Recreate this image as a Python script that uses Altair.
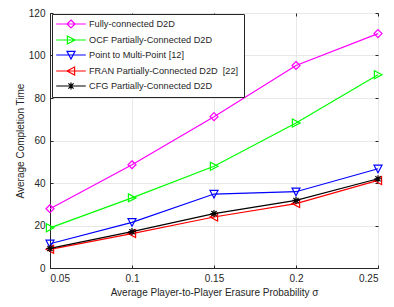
import altair as alt
import pandas as pd

sigma = [0.05, 0.10, 0.15, 0.20, 0.25]
series_names = [
    "Fully-connected D2D",
    "OCF Partially-Connected D2D",
    "Point to Multi-Point [12]",
    "FRAN Partially-Connected D2D\u00a0\u00a0[22]",
    "CFG Partially-Connected D2D",
]
fully = [27.9, 48.6, 71.2, 95.3, 110.3]
ocf = [18.9, 33.0, 47.9, 68.2, 90.9]
p2mp = [11.4, 21.5, 34.8, 35.9, 46.7]
fran = [8.8, 16.2, 24.0, 30.3, 41.2]
cfg = [9.2, 17.1, 25.6, 31.8, 42.0]
colors = ["#ff00ff", "#00ff00", "#0000ff", "#ff0000", "#000000"]
x_ticks = [0.05, 0.1, 0.15, 0.2, 0.25]
y_ticks = [0, 20, 40, 60, 80, 100, 120]

markers = [
    "M0,-1L1,0L0,1L-1,0Z",
    "M-0.9,-1L1,0L-0.9,1Z",
    "M-1,-0.9L1,-0.9L0,1Z",
    "M0.9,-1L-1,0L0.9,1Z",
    "M-0.9,0H0.9M0,-0.9V0.9M-0.65,-0.65L0.65,0.65M-0.65,0.65L0.65,-0.65",
]
legend_paths = ["M-3.7,0H3.7" + m for m in markers]

rows = []
for name, vals in zip(series_names, [fully, ocf, p2mp, fran, cfg]):
    for s, v in zip(sigma, vals):
        rows.append({"sigma": s, "value": v, "series": name})
df = pd.DataFrame(rows)

FONT = "Liberation Sans"
AX = "#262626"

xscale = alt.Scale(domain=[0.05, 0.25], nice=False, zero=False)
yscale = alt.Scale(domain=[0, 120], nice=False)
cscale = alt.Scale(domain=series_names, range=colors)

x_main = alt.Axis(
    orient="bottom",
    values=x_ticks, format="~g", grid=True, gridColor="#e8e8e8", gridWidth=1,
    domainColor=AX, ticks=False, labelPadding=5,
    labelFont=FONT, labelFontSize=10, labelColor=AX,
    title="Average Player-to-Player Erasure Probability σ",
    titleFont=FONT, titleFontSize=10, titleFontWeight="normal", titleColor=AX,
    titlePadding=4,
)
y_main = alt.Axis(
    orient="left",
    values=y_ticks, grid=True, gridColor="#e8e8e8", gridWidth=1,
    domainColor=AX, ticks=False, labelPadding=5,
    labelFont=FONT, labelFontSize=10, labelColor=AX,
    title="Average Completion Time",
    titleFont=FONT, titleFontSize=10, titleFontWeight="normal", titleColor=AX,
    titlePadding=3,
)

layers = []
first = True
for name, col, m in zip(series_names, colors, markers):
    sub = alt.Chart(df).transform_filter(alt.datum.series == name)
    layers.append(
        sub.mark_line(strokeWidth=1.2, color=col).encode(
            x=alt.X("sigma:Q", scale=xscale, axis=x_main if first else None),
            y=alt.Y("value:Q", scale=yscale, axis=y_main if first else None),
        )
    )
    first = False
    layers.append(
        sub.mark_point(shape=m, size=64, filled=False, strokeWidth=1.2, color=col, opacity=1)
        .encode(
            x=alt.X("sigma:Q", scale=xscale, axis=None),
            y=alt.Y("value:Q", scale=yscale, axis=None),
        )
    )

leg = alt.Legend(
    orient="none", legendX=2, legendY=1, title=None,
    symbolSize=64, symbolOffset=9, labelOffset=13, padding=5, rowPadding=2,
    strokeColor=AX, fillColor="white", cornerRadius=0,
    labelFont=FONT, labelFontSize=9.2, labelColor=AX, labelLimit=0,
    symbolStrokeWidth=1.2, symbolOpacity=1,
)
legend_layer = alt.Chart(df).mark_point(size=64, filled=False, opacity=0, strokeWidth=1.2).encode(
    x=alt.X("sigma:Q", scale=xscale, axis=None),
    y=alt.Y("value:Q", scale=yscale, axis=None),
    color=alt.Color("series:N", scale=cscale, legend=leg),
    shape=alt.Shape("series:N", scale=alt.Scale(domain=series_names, range=legend_paths), legend=leg),
)


def tick_axis(orient, values):
    return alt.Axis(orient=orient, values=values, labels=False, grid=False, domain=False,
                    title=None, tickColor=AX, tickSize=3, offset=-3)


ticks_bl = alt.Chart(df).mark_point(opacity=0).encode(
    x=alt.X("sigma:Q", scale=xscale, axis=tick_axis("bottom", x_ticks)),
    y=alt.Y("value:Q", scale=yscale, axis=tick_axis("left", y_ticks)),
)
ticks_tr = alt.Chart(df).mark_point(opacity=0).encode(
    x=alt.X("sigma:Q", scale=xscale, axis=tick_axis("top", x_ticks)),
    y=alt.Y("value:Q", scale=yscale, axis=tick_axis("right", y_ticks)),
)

chart = alt.layer(*layers, legend_layer, ticks_bl, ticks_tr).resolve_axis(
    x="independent", y="independent"
).properties(
    width=328, height=255,
    autosize=alt.AutoSizeParams(type="none"),
    padding={"left": 42, "top": 5, "right": 8, "bottom": 30},
).configure_view(stroke=AX, strokeWidth=1).configure(background="white")

chart.save("out.html", embed_options={"renderer": "svg", "actions": False})
